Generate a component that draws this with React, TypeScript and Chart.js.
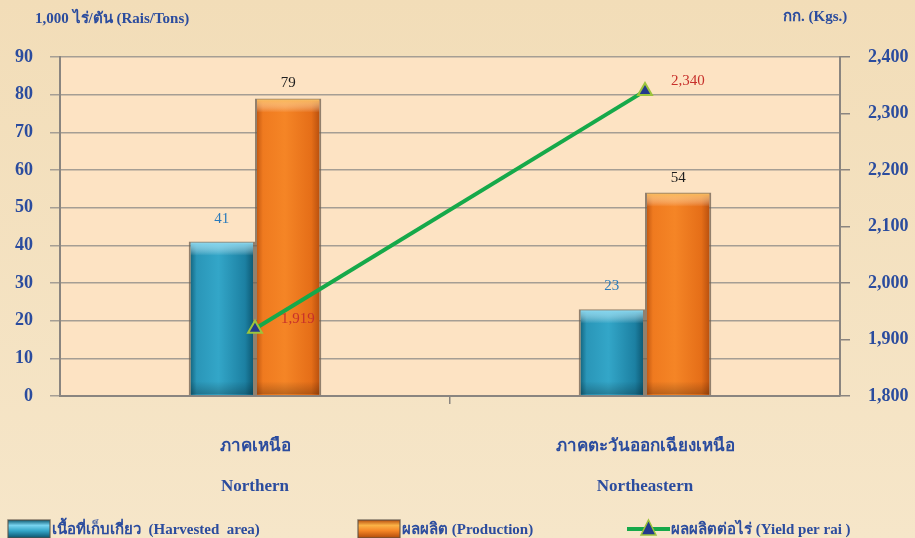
import { useEffect, useRef } from 'react';
import { Chart, registerables } from 'chart.js';

Chart.register(...registerables);

const categories: string[][] = [
  ['ภาคเหนือ', 'Northern'],
  ['ภาคตะวันออกเฉียงเหนือ', 'Northeastern'],
];
const harvestedArea = [41, 23];
const production = [79, 54];
const yieldPerRai = [1919, 2340];
const seriesNames = [
  'เนื้อที่เก็บเกี่ยว  (Harvested  area)',
  'ผลผลิต (Production)',
  'ผลผลิตต่อไร่ (Yield per rai )',
];
const leftTitle = '1,000 ไร่/ตัน (Rais/Tons)';
const rightTitle = 'กก. (Kgs.)';

const SERIF = '"Liberation Serif", "Times New Roman", serif';
const BLUE_TEXT = '#2b4c9e';
const GRID = '#a59e94';
const AXIS = '#8a8580';
const CAT_PCT = 0.34;

const barStops: Record<number, string[]> = {
  0: ['#0e5a72', '#2a96b8', '#33a6c8', '#1c80a2', '#0b526b'],
  1: ['#b9500e', '#ef7a1f', '#f58526', '#e56e18', '#b04a0c'],
};
const barTop: Record<number, string> = { 0: '#79d4f0', 1: '#fbb347' };

function barGradient(ctx: any) {
  const chart = ctx.chart;
  const area = chart.chartArea;
  const solid = ctx.datasetIndex === 0 ? '#2088aa' : '#ef7a1f';
  if (!area || ctx.dataIndex === undefined) return solid;
  const xs = chart.scales.x;
  const center = xs.getPixelForValue(ctx.dataIndex);
  const cw = (area.right - area.left) / categories.length;
  const bw = (cw * CAT_PCT) / 2;
  const left = ctx.datasetIndex === 0 ? center - bw : center;
  const g = chart.ctx.createLinearGradient(left, 0, left + bw, 0);
  const s = barStops[ctx.datasetIndex];
  g.addColorStop(0, s[0]);
  g.addColorStop(0.12, s[1]);
  g.addColorStop(0.45, s[2]);
  g.addColorStop(0.85, s[3]);
  g.addColorStop(1, s[4]);
  return g;
}

const decorPlugin = {
  id: 'decor',
  beforeDraw(chart: any) {
    const { ctx, width, height, chartArea: a } = chart;
    ctx.save();
    const bg = ctx.createLinearGradient(0, 0, 0, height);
    bg.addColorStop(0, '#f2ddb8');
    bg.addColorStop(1, '#f6e6c9');
    ctx.fillStyle = bg;
    ctx.fillRect(0, 0, width, height);
    ctx.fillStyle = '#fde3c3';
    ctx.fillRect(a.left, a.top, a.right - a.left, a.bottom - a.top);
    ctx.fillStyle = BLUE_TEXT;
    ctx.font = `bold 15px ${SERIF}`;
    ctx.textBaseline = 'middle';
    ctx.textAlign = 'left';
    ctx.fillText(leftTitle, 35, 19);
    ctx.fillText(rightTitle, 783, 17);
    ctx.restore();
  },
  afterDatasetDraw(chart: any, args: any) {
    if (args.index > 1) return;
    const { ctx } = chart;
    ctx.save();
    args.meta.data.forEach((el: any) => {
      const w = el.width;
      const left = el.x - w / 2;
      const g = ctx.createLinearGradient(0, el.y, 0, el.y + 14);
      g.addColorStop(0, barTop[args.index]);
      g.addColorStop(1, 'rgba(255,255,255,0)');
      ctx.fillStyle = g;
      ctx.fillRect(left + 2, el.y + 1, w - 4, 14);
      const g2 = ctx.createLinearGradient(0, el.base - 14, 0, el.base);
      g2.addColorStop(0, 'rgba(0,0,0,0)');
      g2.addColorStop(1, 'rgba(0,0,0,0.25)');
      ctx.fillStyle = g2;
      ctx.fillRect(left + 2, el.base - 14, w - 4, 13);
    });
    ctx.restore();
  },
  afterDraw(chart: any) {
    const { ctx } = chart;
    ctx.save();
    ctx.font = `15px ${SERIF}`;
    ctx.textAlign = 'center';
    ctx.textBaseline = 'middle';
    const m0 = chart.getDatasetMeta(0);
    const m1 = chart.getDatasetMeta(1);
    const m2 = chart.getDatasetMeta(2);
    m0.data.forEach((el: any, i: number) => {
      ctx.fillStyle = '#2a7abb';
      ctx.fillText(String(harvestedArea[i]), el.x, el.y - 23);
    });
    m1.data.forEach((el: any, i: number) => {
      ctx.fillStyle = '#1e1e1e';
      ctx.fillText(String(production[i]), el.x, el.y - 15);
    });
    ctx.textAlign = 'left';
    m2.data.forEach((el: any, i: number) => {
      ctx.fillStyle = '#c7302b';
      ctx.fillText(yieldPerRai[i].toLocaleString('en-US'), el.x + 26, el.y - 10);
    });

    // legend
    const lx = [8, 358, 627];
    const ly = 520;
    ctx.font = `bold 15px ${SERIF}`;
    ctx.textBaseline = 'middle';
    ctx.fillStyle = BLUE_TEXT;
    for (let i = 0; i < 3; i++) {
      const x = lx[i];
      if (i < 2) {
        const g = ctx.createLinearGradient(0, ly, 0, ly + 18);
        const s = barStops[i];
        g.addColorStop(0, s[0]);
        g.addColorStop(0.3, barTop[i]);
        g.addColorStop(0.6, s[2]);
        g.addColorStop(1, s[4]);
        ctx.fillStyle = g;
        ctx.fillRect(x, ly, 42, 18);
        ctx.strokeStyle = 'rgba(90,80,70,0.7)';
        ctx.lineWidth = 1.5;
        ctx.strokeRect(x, ly, 42, 18);
      } else {
        ctx.strokeStyle = '#16a94a';
        ctx.lineWidth = 4;
        ctx.beginPath();
        ctx.moveTo(x, ly + 9);
        ctx.lineTo(x + 43, ly + 9);
        ctx.stroke();
        ctx.beginPath();
        ctx.moveTo(x + 21.5, ly);
        ctx.lineTo(x + 29, ly + 15);
        ctx.lineTo(x + 14, ly + 15);
        ctx.closePath();
        ctx.fillStyle = '#233a8c';
        ctx.fill();
        ctx.strokeStyle = '#9cc43c';
        ctx.lineWidth = 1.5;
        ctx.stroke();
      }
      ctx.fillStyle = BLUE_TEXT;
      ctx.fillText(seriesNames[i], x + 44, ly + 10);
    }
    ctx.restore();
  },
};

export default function App() {
  const ref = useRef<HTMLCanvasElement>(null);
  useEffect(() => {
    document.body.style.margin = '0';
    const canvas = ref.current!;
    const chart = new Chart(canvas, {
      type: 'bar',
      data: {
        labels: categories,
        datasets: [
          {
            type: 'bar',
            label: seriesNames[0],
            data: harvestedArea,
            yAxisID: 'y',
            backgroundColor: barGradient,
            borderColor: 'rgba(110,95,80,0.75)',
            borderWidth: 2,
            categoryPercentage: CAT_PCT,
            barPercentage: 1,
            order: 1,
          },
          {
            type: 'bar',
            label: seriesNames[1],
            data: production,
            yAxisID: 'y',
            backgroundColor: barGradient,
            borderColor: 'rgba(110,95,80,0.75)',
            borderWidth: 2,
            categoryPercentage: CAT_PCT,
            barPercentage: 1,
            order: 1,
          },
          {
            type: 'line',
            label: seriesNames[2],
            data: yieldPerRai,
            yAxisID: 'y1',
            borderColor: '#16a94a',
            borderWidth: 4,
            pointStyle: 'triangle',
            pointRadius: 8,
            pointBackgroundColor: '#233a8c',
            pointBorderColor: '#9cc43c',
            pointBorderWidth: 2,
            order: 0,
          },
        ] as any,
      },
      options: {
        responsive: false,
        animation: false,
        devicePixelRatio: 1,
        layout: { padding: { top: 57, left: 0, right: 0, bottom: 0 } },
        plugins: { legend: { display: false }, tooltip: { enabled: false } },
        scales: {
          x: {
            grid: {
              offset: true,
              drawOnChartArea: false,
              drawTicks: true,
              tickLength: 8,
              color: (c: any) => (c.index === 1 ? AXIS : 'rgba(0,0,0,0)'),
              lineWidth: 1.5,
            },
            border: { display: true, color: AXIS, width: 2 },
            ticks: {
              color: BLUE_TEXT,
              font: { family: SERIF, size: 17, weight: 'bold', lineHeight: 2.35 },
              padding: 23,
              maxRotation: 0,
            },
            afterFit: (s: any) => { s.height = 142; },
          },
          y: {
            position: 'left',
            min: 0,
            max: 90,
            ticks: {
              stepSize: 10,
              color: BLUE_TEXT,
              font: { family: SERIF, size: 18, weight: 'bold' },
              padding: 17,
            },
            grid: { color: GRID, lineWidth: 1.5, tickLength: 10, drawTicks: true },
            border: { display: true, color: AXIS, width: 2 },
            afterFit: (s: any) => { s.width = 60; },
          },
          y1: {
            position: 'right',
            min: 1800,
            max: 2400,
            ticks: {
              stepSize: 100,
              color: BLUE_TEXT,
              font: { family: SERIF, size: 18, weight: 'bold' },
              padding: 18,
            },
            grid: { drawOnChartArea: false, drawTicks: true, tickLength: 10, color: AXIS, lineWidth: 1.5 },
            border: { display: true, color: AXIS, width: 2 },
            afterFit: (s: any) => { s.width = 75; },
          },
        },
      } as any,
      plugins: [decorPlugin],
    });
    return () => chart.destroy();
  }, []);
  return (
    <div style={{ position: 'absolute', left: 0, top: 0, width: 915, height: 538 }}>
      <canvas ref={ref} width={915} height={538} style={{ display: 'block' }} />
    </div>
  );
}
